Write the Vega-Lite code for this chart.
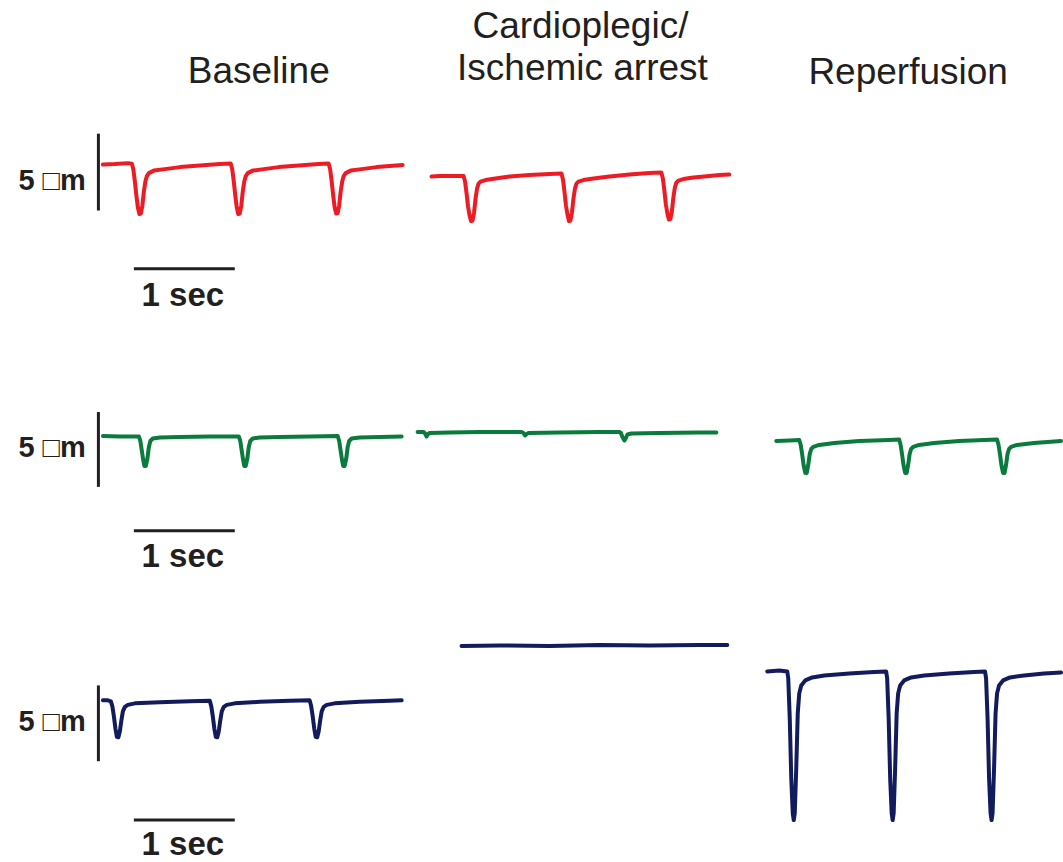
{
"$schema": "https://vega.github.io/schema/vega-lite/v6.json",
"width": 1063, "height": 862,
"autosize": {"type": "fit", "contains": "padding"},
"padding": 0,
"background": "white",
"config": {"view": {"stroke": null}},
"datasets": {
"traces": [
{"p":"R1","t":1.03,"v":165},{"p":"R1","t":1.15,"v":164.5},{"p":"R1","t":1.28,"v":163.5},
{"p":"R1","t":1.32,"v":164},{"p":"R1","t":1.335,"v":170},{"p":"R1","t":1.35,"v":182},{"p":"R1","t":1.365,"v":196},{"p":"R1","t":1.38,"v":208},{"p":"R1","t":1.395,"v":214.5},{"p":"R1","t":1.41,"v":214},{"p":"R1","t":1.425,"v":206},{"p":"R1","t":1.44,"v":192},{"p":"R1","t":1.455,"v":182},{"p":"R1","t":1.47,"v":176.5},{"p":"R1","t":1.49,"v":173.5},{"p":"R1","t":1.54,"v":171},{"p":"R1","t":1.65,"v":169.5},{"p":"R1","t":1.8,"v":167.5},{"p":"R1","t":2.0,"v":166},{"p":"R1","t":2.2,"v":164.5},
{"p":"R1","t":2.31,"v":164},{"p":"R1","t":2.325,"v":170},{"p":"R1","t":2.34,"v":182},{"p":"R1","t":2.355,"v":196},{"p":"R1","t":2.37,"v":208},{"p":"R1","t":2.385,"v":214.5},{"p":"R1","t":2.4,"v":214},{"p":"R1","t":2.415,"v":206},{"p":"R1","t":2.43,"v":192},{"p":"R1","t":2.445,"v":182},{"p":"R1","t":2.46,"v":176.5},{"p":"R1","t":2.48,"v":173.5},{"p":"R1","t":2.53,"v":171},{"p":"R1","t":2.64,"v":169.5},{"p":"R1","t":2.79,"v":167.5},{"p":"R1","t":2.99,"v":166},{"p":"R1","t":3.19,"v":164.5},
{"p":"R1","t":3.29,"v":164},{"p":"R1","t":3.305,"v":170},{"p":"R1","t":3.32,"v":182},{"p":"R1","t":3.335,"v":196},{"p":"R1","t":3.35,"v":208},{"p":"R1","t":3.365,"v":214},{"p":"R1","t":3.38,"v":213.5},{"p":"R1","t":3.395,"v":206},{"p":"R1","t":3.41,"v":192},{"p":"R1","t":3.425,"v":182},{"p":"R1","t":3.44,"v":176.5},{"p":"R1","t":3.46,"v":173.5},{"p":"R1","t":3.51,"v":171},{"p":"R1","t":3.62,"v":169.5},{"p":"R1","t":3.77,"v":167.5},{"p":"R1","t":3.9,"v":166.5},{"p":"R1","t":4.03,"v":165.5},

{"p":"R2","t":4.32,"v":177},{"p":"R2","t":4.4,"v":176.5},{"p":"R2","t":4.5,"v":176.5},
{"p":"R2","t":4.64,"v":176.5},{"p":"R2","t":4.655,"v":182},{"p":"R2","t":4.67,"v":194},{"p":"R2","t":4.685,"v":207},{"p":"R2","t":4.7,"v":216},{"p":"R2","t":4.715,"v":221.5},{"p":"R2","t":4.73,"v":221},{"p":"R2","t":4.745,"v":213},{"p":"R2","t":4.76,"v":199},{"p":"R2","t":4.775,"v":189},{"p":"R2","t":4.79,"v":184},{"p":"R2","t":4.81,"v":182},{"p":"R2","t":4.86,"v":180.5},{"p":"R2","t":4.96,"v":179},{"p":"R2","t":5.1,"v":177},{"p":"R2","t":5.3,"v":175.5},{"p":"R2","t":5.5,"v":174.5},
{"p":"R2","t":5.62,"v":174},{"p":"R2","t":5.635,"v":180},{"p":"R2","t":5.65,"v":192},{"p":"R2","t":5.665,"v":206},{"p":"R2","t":5.68,"v":215},{"p":"R2","t":5.695,"v":221.5},{"p":"R2","t":5.71,"v":221},{"p":"R2","t":5.725,"v":213},{"p":"R2","t":5.74,"v":199},{"p":"R2","t":5.755,"v":189},{"p":"R2","t":5.77,"v":184},{"p":"R2","t":5.79,"v":182},{"p":"R2","t":5.84,"v":180.5},{"p":"R2","t":5.94,"v":179},{"p":"R2","t":6.1,"v":177},{"p":"R2","t":6.3,"v":175},{"p":"R2","t":6.5,"v":173.5},
{"p":"R2","t":6.62,"v":173},{"p":"R2","t":6.635,"v":179},{"p":"R2","t":6.65,"v":191},{"p":"R2","t":6.665,"v":205},{"p":"R2","t":6.68,"v":214},{"p":"R2","t":6.695,"v":220},{"p":"R2","t":6.71,"v":219.5},{"p":"R2","t":6.725,"v":212},{"p":"R2","t":6.74,"v":198},{"p":"R2","t":6.755,"v":188},{"p":"R2","t":6.77,"v":183},{"p":"R2","t":6.79,"v":181},{"p":"R2","t":6.84,"v":179.5},{"p":"R2","t":6.94,"v":178},{"p":"R2","t":7.05,"v":177},{"p":"R2","t":7.2,"v":175.5},{"p":"R2","t":7.3,"v":175},

{"p":"G1","t":1.03,"v":437},{"p":"G1","t":1.2,"v":437.5},
{"p":"G1","t":1.39,"v":437.5},{"p":"G1","t":1.405,"v":442},{"p":"G1","t":1.42,"v":452},{"p":"G1","t":1.435,"v":462},{"p":"G1","t":1.445,"v":467},{"p":"G1","t":1.46,"v":467},{"p":"G1","t":1.475,"v":460},{"p":"G1","t":1.49,"v":448},{"p":"G1","t":1.505,"v":442},{"p":"G1","t":1.53,"v":439.5},{"p":"G1","t":1.6,"v":438.5},{"p":"G1","t":1.8,"v":438},{"p":"G1","t":2.1,"v":437.5},
{"p":"G1","t":2.39,"v":437.5},{"p":"G1","t":2.405,"v":442},{"p":"G1","t":2.42,"v":452},{"p":"G1","t":2.435,"v":462},{"p":"G1","t":2.445,"v":467},{"p":"G1","t":2.46,"v":467},{"p":"G1","t":2.475,"v":460},{"p":"G1","t":2.49,"v":448},{"p":"G1","t":2.505,"v":442},{"p":"G1","t":2.53,"v":439.5},{"p":"G1","t":2.6,"v":438.5},{"p":"G1","t":2.8,"v":438},{"p":"G1","t":3.1,"v":437.5},
{"p":"G1","t":3.38,"v":437},{"p":"G1","t":3.395,"v":442},{"p":"G1","t":3.41,"v":452},{"p":"G1","t":3.425,"v":462},{"p":"G1","t":3.435,"v":467},{"p":"G1","t":3.45,"v":467},{"p":"G1","t":3.465,"v":460},{"p":"G1","t":3.48,"v":448},{"p":"G1","t":3.495,"v":442},{"p":"G1","t":3.52,"v":439.5},{"p":"G1","t":3.6,"v":438.5},{"p":"G1","t":3.8,"v":438},{"p":"G1","t":4.02,"v":437.5},

{"p":"G2","t":4.18,"v":433},{"p":"G2","t":4.24,"v":433},{"p":"G2","t":4.255,"v":434.5},{"p":"G2","t":4.27,"v":437.5},{"p":"G2","t":4.285,"v":435},{"p":"G2","t":4.3,"v":434},{"p":"G2","t":4.5,"v":433.5},{"p":"G2","t":4.8,"v":433},{"p":"G2","t":5.1,"v":433},{"p":"G2","t":5.22,"v":433},{"p":"G2","t":5.24,"v":434},{"p":"G2","t":5.255,"v":436.5},{"p":"G2","t":5.27,"v":435},{"p":"G2","t":5.29,"v":434},{"p":"G2","t":5.6,"v":433.5},{"p":"G2","t":6.0,"v":433},{"p":"G2","t":6.2,"v":433},{"p":"G2","t":6.215,"v":434},{"p":"G2","t":6.23,"v":438},{"p":"G2","t":6.25,"v":441.5},{"p":"G2","t":6.265,"v":439},{"p":"G2","t":6.28,"v":435.5},{"p":"G2","t":6.32,"v":434.5},{"p":"G2","t":6.6,"v":434},{"p":"G2","t":7.0,"v":433.5},{"p":"G2","t":7.17,"v":433.5},

{"p":"G3","t":7.77,"v":442},{"p":"G3","t":7.9,"v":441.5},
{"p":"G3","t":8.0,"v":441},{"p":"G3","t":8.015,"v":446},{"p":"G3","t":8.03,"v":456},{"p":"G3","t":8.045,"v":467},{"p":"G3","t":8.06,"v":474},{"p":"G3","t":8.075,"v":474},{"p":"G3","t":8.09,"v":466},{"p":"G3","t":8.105,"v":455},{"p":"G3","t":8.12,"v":450},{"p":"G3","t":8.14,"v":448},{"p":"G3","t":8.2,"v":446},{"p":"G3","t":8.35,"v":444},{"p":"G3","t":8.6,"v":442},{"p":"G3","t":8.9,"v":441},
{"p":"G3","t":9.0,"v":440.5},{"p":"G3","t":9.015,"v":446},{"p":"G3","t":9.03,"v":456},{"p":"G3","t":9.045,"v":467},{"p":"G3","t":9.06,"v":474},{"p":"G3","t":9.075,"v":474},{"p":"G3","t":9.09,"v":466},{"p":"G3","t":9.105,"v":455},{"p":"G3","t":9.12,"v":450},{"p":"G3","t":9.14,"v":448},{"p":"G3","t":9.2,"v":446},{"p":"G3","t":9.35,"v":444},{"p":"G3","t":9.6,"v":442},{"p":"G3","t":9.85,"v":441},
{"p":"G3","t":9.98,"v":440.5},{"p":"G3","t":9.995,"v":446},{"p":"G3","t":10.01,"v":456},{"p":"G3","t":10.025,"v":467},{"p":"G3","t":10.04,"v":474},{"p":"G3","t":10.055,"v":474},{"p":"G3","t":10.07,"v":466},{"p":"G3","t":10.085,"v":455},{"p":"G3","t":10.1,"v":450},{"p":"G3","t":10.12,"v":448},{"p":"G3","t":10.18,"v":446},{"p":"G3","t":10.35,"v":444},{"p":"G3","t":10.62,"v":442},

{"p":"N1","t":1.03,"v":702},{"p":"N1","t":1.08,"v":702},
{"p":"N1","t":1.11,"v":703},{"p":"N1","t":1.125,"v":708},{"p":"N1","t":1.14,"v":718},{"p":"N1","t":1.155,"v":730},{"p":"N1","t":1.17,"v":738.5},{"p":"N1","t":1.185,"v":739},{"p":"N1","t":1.2,"v":733},{"p":"N1","t":1.215,"v":722},{"p":"N1","t":1.23,"v":713},{"p":"N1","t":1.25,"v":708.5},{"p":"N1","t":1.28,"v":706.5},{"p":"N1","t":1.35,"v":705},{"p":"N1","t":1.6,"v":704},{"p":"N1","t":1.9,"v":703},
{"p":"N1","t":2.1,"v":702.5},{"p":"N1","t":2.115,"v":708},{"p":"N1","t":2.13,"v":718},{"p":"N1","t":2.145,"v":730},{"p":"N1","t":2.16,"v":738.5},{"p":"N1","t":2.175,"v":739},{"p":"N1","t":2.19,"v":733},{"p":"N1","t":2.205,"v":722},{"p":"N1","t":2.22,"v":713},{"p":"N1","t":2.24,"v":708.5},{"p":"N1","t":2.27,"v":706.5},{"p":"N1","t":2.35,"v":705},{"p":"N1","t":2.6,"v":703.5},{"p":"N1","t":2.9,"v":702.5},
{"p":"N1","t":3.1,"v":702},{"p":"N1","t":3.115,"v":708},{"p":"N1","t":3.13,"v":718},{"p":"N1","t":3.145,"v":730},{"p":"N1","t":3.16,"v":738.5},{"p":"N1","t":3.175,"v":739},{"p":"N1","t":3.19,"v":733},{"p":"N1","t":3.205,"v":722},{"p":"N1","t":3.22,"v":713},{"p":"N1","t":3.24,"v":708.5},{"p":"N1","t":3.27,"v":706.5},{"p":"N1","t":3.35,"v":705},{"p":"N1","t":3.6,"v":703.5},{"p":"N1","t":3.9,"v":702.5},{"p":"N1","t":4.02,"v":702},

{"p":"N2","t":4.62,"v":647.5},{"p":"N2","t":5.0,"v":647},{"p":"N2","t":5.5,"v":647.5},{"p":"N2","t":6.0,"v":646.5},{"p":"N2","t":6.5,"v":647},{"p":"N2","t":7.0,"v":646.5},{"p":"N2","t":7.28,"v":646.5},

{"p":"N3","t":7.68,"v":673},{"p":"N3","t":7.8,"v":672},
{"p":"N3","t":7.88,"v":673},{"p":"N3","t":7.89,"v":680},{"p":"N3","t":7.905,"v":720},{"p":"N3","t":7.92,"v":780},{"p":"N3","t":7.935,"v":815},{"p":"N3","t":7.945,"v":822},{"p":"N3","t":7.955,"v":815},{"p":"N3","t":7.97,"v":770},{"p":"N3","t":7.985,"v":715},{"p":"N3","t":8.0,"v":695},{"p":"N3","t":8.02,"v":687},{"p":"N3","t":8.06,"v":682},{"p":"N3","t":8.13,"v":679},{"p":"N3","t":8.25,"v":677},{"p":"N3","t":8.5,"v":675},{"p":"N3","t":8.75,"v":673.5},
{"p":"N3","t":8.87,"v":673},{"p":"N3","t":8.88,"v":680},{"p":"N3","t":8.895,"v":720},{"p":"N3","t":8.91,"v":780},{"p":"N3","t":8.925,"v":815},{"p":"N3","t":8.935,"v":822},{"p":"N3","t":8.945,"v":815},{"p":"N3","t":8.96,"v":770},{"p":"N3","t":8.975,"v":715},{"p":"N3","t":8.99,"v":695},{"p":"N3","t":9.01,"v":687},{"p":"N3","t":9.05,"v":682},{"p":"N3","t":9.12,"v":679},{"p":"N3","t":9.25,"v":677},{"p":"N3","t":9.5,"v":675},{"p":"N3","t":9.75,"v":673.5},
{"p":"N3","t":9.86,"v":673},{"p":"N3","t":9.87,"v":680},{"p":"N3","t":9.885,"v":720},{"p":"N3","t":9.9,"v":780},{"p":"N3","t":9.915,"v":815},{"p":"N3","t":9.925,"v":822},{"p":"N3","t":9.935,"v":815},{"p":"N3","t":9.95,"v":770},{"p":"N3","t":9.965,"v":715},{"p":"N3","t":9.98,"v":695},{"p":"N3","t":10.0,"v":687},{"p":"N3","t":10.04,"v":682},{"p":"N3","t":10.11,"v":679},{"p":"N3","t":10.25,"v":677},{"p":"N3","t":10.45,"v":675},{"p":"N3","t":10.62,"v":674}
],
"bars": [
{"t":0.985,"t2":0.985,"v":134,"v2":211},
{"t":0.985,"t2":0.985,"v":413,"v2":488},
{"t":0.985,"t2":0.985,"v":687,"v2":763},
{"t":1.34,"t2":2.35,"v":269.5,"v2":269.5},
{"t":1.34,"t2":2.35,"v":532,"v2":532},
{"t":1.34,"t2":2.35,"v":822,"v2":822}
],
"titles": [
{"t":2.59,"v":83.5,"label":"Baseline"},
{"t":5.81,"v":38,"label":"Cardioplegic/"},
{"t":5.83,"v":80,"label":"Ischemic arrest"},
{"t":9.09,"v":84,"label":"Reperfusion"}
],
"units": [
{"t":0.86,"v":190.5,"label":"5 □m"},
{"t":0.86,"v":458,"label":"5 □m"},
{"t":0.86,"v":733,"label":"5 □m"}
],
"secs": [
{"t":1.83,"v":306.5,"label":"1 sec"},
{"t":1.83,"v":568,"label":"1 sec"},
{"t":1.83,"v":857,"label":"1 sec"}
]
},
"layer": [
{"data": {"name": "traces"},
 "mark": {"type": "line", "strokeWidth": 4, "strokeJoin": "round", "strokeCap": "round"},
 "encoding": {
  "x": {"field": "t", "type": "quantitative", "scale": {"domain": [0, 10.63], "nice": false, "zero": false}, "axis": null},
  "y": {"field": "v", "type": "quantitative", "scale": {"domain": [0, 862], "reverse": true, "nice": false, "zero": false}, "axis": null},
  "color": {"field": "p", "type": "nominal", "legend": null, "scale": {"domain": ["R1","R2","G1","G2","G3","N1","N2","N3"], "range": ["#ED1C24","#ED1C24","#0A7B3C","#0A7B3C","#0A7B3C","#121B5C","#121B5C","#121B5C"]}},
  "detail": {"field": "p", "type": "nominal"}
 }},
{"data": {"name": "bars"},
 "mark": {"type": "rule", "strokeWidth": 3, "color": "#231F20"},
 "encoding": {
  "x": {"field": "t", "type": "quantitative", "scale": {"domain": [0, 10.63], "nice": false, "zero": false}, "axis": null},
  "x2": {"field": "t2"},
  "y": {"field": "v", "type": "quantitative", "scale": {"domain": [0, 862], "reverse": true, "nice": false, "zero": false}, "axis": null},
  "y2": {"field": "v2"}
 }},
{"data": {"name": "titles"},
 "mark": {"type": "text", "font": "Liberation Sans", "fontSize": 37, "align": "center", "baseline": "alphabetic", "color": "#231F20"},
 "encoding": {
  "x": {"field": "t", "type": "quantitative", "scale": {"domain": [0, 10.63], "nice": false, "zero": false}, "axis": null},
  "y": {"field": "v", "type": "quantitative", "scale": {"domain": [0, 862], "reverse": true, "nice": false, "zero": false}, "axis": null},
  "text": {"field": "label"}
 }},
{"data": {"name": "units"},
 "mark": {"type": "text", "font": "Liberation Sans", "fontSize": 29, "fontWeight": "bold", "align": "right", "baseline": "alphabetic", "color": "#231F20"},
 "encoding": {
  "x": {"field": "t", "type": "quantitative", "scale": {"domain": [0, 10.63], "nice": false, "zero": false}, "axis": null},
  "y": {"field": "v", "type": "quantitative", "scale": {"domain": [0, 862], "reverse": true, "nice": false, "zero": false}, "axis": null},
  "text": {"field": "label"}
 }},
{"data": {"name": "secs"},
 "mark": {"type": "text", "font": "Liberation Sans", "fontSize": 33, "fontWeight": "bold", "align": "center", "baseline": "alphabetic", "color": "#231F20"},
 "encoding": {
  "x": {"field": "t", "type": "quantitative", "scale": {"domain": [0, 10.63], "nice": false, "zero": false}, "axis": null},
  "y": {"field": "v", "type": "quantitative", "scale": {"domain": [0, 862], "reverse": true, "nice": false, "zero": false}, "axis": null},
  "text": {"field": "label"}
 }}
]
}
